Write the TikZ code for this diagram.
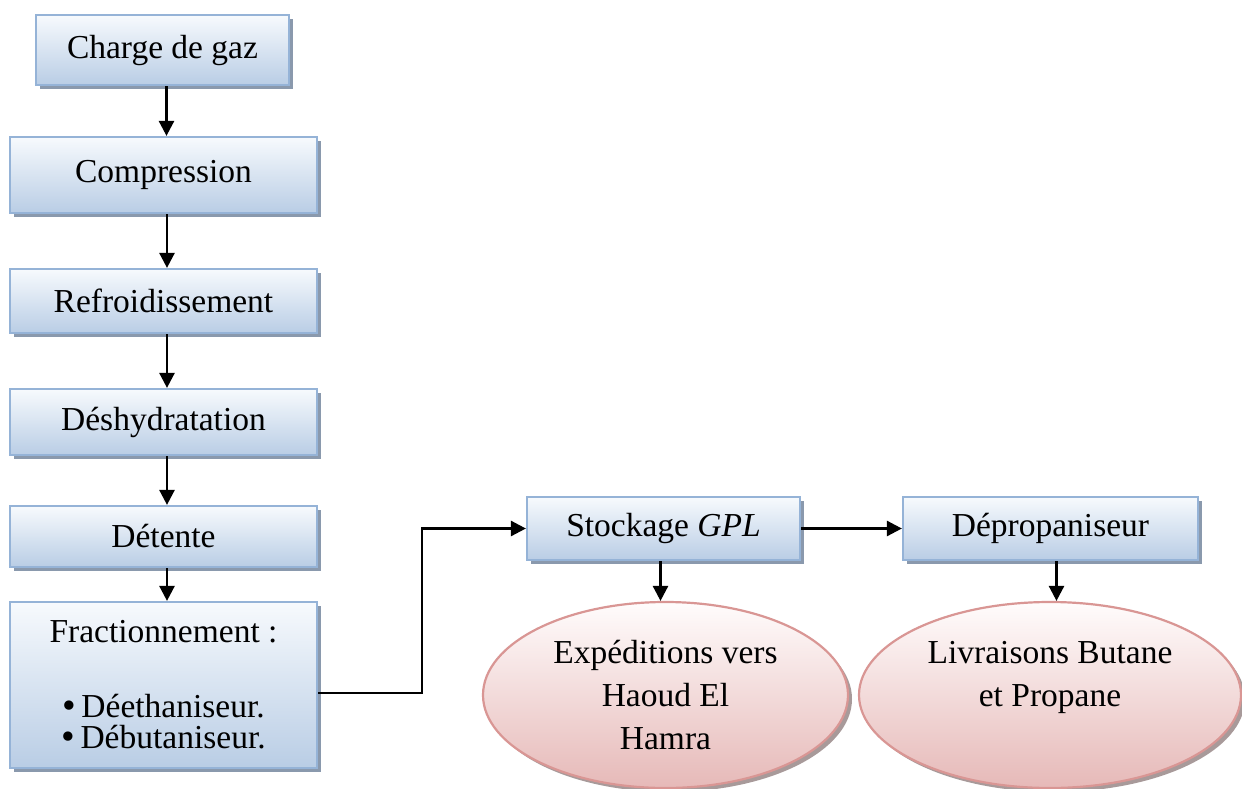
\documentclass[tikz,border=0pt]{standalone}
\usepackage{fontspec}
\setmainfont{Liberation Serif}
\usetikzlibrary{arrows.meta,shapes.geometric,shadows}
\definecolor{boxtop}{HTML}{F7FAFD}
\definecolor{boxbot}{HTML}{B9CDE5}
\definecolor{boxline}{HTML}{95B3D7}
\definecolor{shadowc}{HTML}{8A99AD}
\definecolor{elltop}{HTML}{FFFCFC}
\definecolor{ellbot}{HTML}{E6B9B8}
\definecolor{ellline}{HTML}{D99694}
\definecolor{ellshadow}{HTML}{A89A9A}
\newcommand{\bigbul}{\smash{{\fontsize{39}{30}\selectfont\raisebox{-0.8pt}{\textbullet}}}}
\begin{document}
\begin{tikzpicture}[x=1pt,y=-1pt,
  font=\fontsize{33.5}{43}\selectfont,
  procbox/.style={rectangle, draw=boxline, line width=2.2pt, top color=boxtop, bottom color=boxbot,
    drop shadow={shadow xshift=4pt,shadow yshift=-4pt,fill=shadowc,opacity=1},
    inner sep=0pt, align=center},
  outell/.style={ellipse, draw=ellline, line width=2.2pt, top color=elltop, bottom color=ellbot,
    drop shadow={shadow xshift=4pt,shadow yshift=-4pt,fill=ellshadow,opacity=1},
    inner sep=0pt, align=center, minimum height=186pt},
  arr/.style={line width=2.6pt, -{Triangle[width=15pt,length=15pt]}}
]
\useasboundingbox (0,0) rectangle (1242,789);
\fill[white] (0,0) rectangle (1242,789);

\node[procbox, minimum width=253pt, minimum height=70pt] (charge) at (162.5,50) {Charge de gaz};
\node[procbox, minimum width=307pt, minimum height=76pt] (comp) at (163.5,175) {Compression};
\node[procbox, minimum width=307pt, minimum height=64pt] (refr) at (163.5,301) {Refroidissement};
\node[procbox, minimum width=307pt, minimum height=66pt] (desh) at (163.5,422) {Déshydratation};
\node[procbox, minimum width=307pt, minimum height=61pt] (dete) at (163.5,536.5) {Détente};
\node[procbox, minimum width=307pt, minimum height=166pt, font=\fontsize{33.5}{31}\selectfont] (frac) at (163.5,685)
  {Fractionnement :\\[44pt]\bigbul\,Déethaniseur.\\\bigbul\,Débutaniseur.};

\node[procbox, minimum width=273pt, minimum height=63pt] (stock) at (663.5,528.5) {Stockage \textit{GPL}};
\node[procbox, minimum width=295pt, minimum height=63pt] (dep) at (1050.5,528.5) {Dépropaniseur};

\node[outell, minimum width=365pt] (exp) at (665.5,695) {Expéditions vers\\Haoud El\\Hamra};
\node[outell, minimum width=382pt] (liv) at (1050,695) {Livraisons Butane\\et Propane\\\mbox{}};

\coordinate (bend) at (422,528.5);

\draw[arr] ([xshift=4pt]charge.south) -- ([xshift=4pt]charge.south |- comp.north);
\draw[arr] ([xshift=3.5pt]comp.south) -- ([xshift=3.5pt]refr.north);
\draw[arr] ([xshift=3.5pt]refr.south) -- ([xshift=3.5pt]desh.north);
\draw[arr] ([xshift=3.5pt]desh.south) -- ([xshift=3.5pt]dete.north);
\draw[arr] ([xshift=3.5pt]dete.south) -- ([xshift=3.5pt]frac.north);
\draw[arr] ([yshift=-8pt]frac.east) -| (bend) -- (stock.west);
\draw[arr] (stock.east) -- (dep.west);
\draw[arr] ([xshift=-3pt]stock.south) -- ([xshift=-3pt]stock.south |- exp.north);
\draw[arr] ([xshift=6pt]dep.south) -- ([xshift=6pt]dep.south |- liv.north);
\end{tikzpicture}
\end{document}
